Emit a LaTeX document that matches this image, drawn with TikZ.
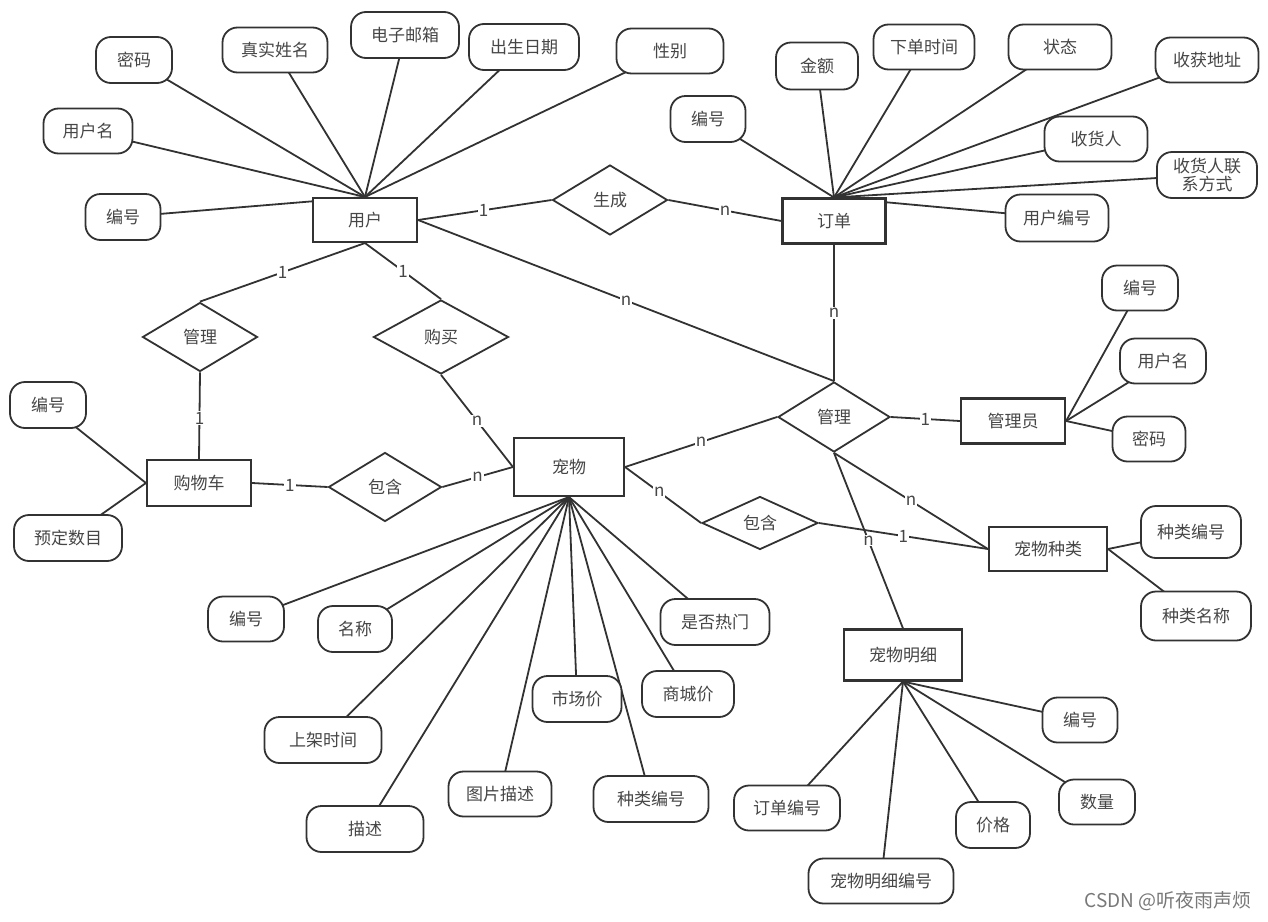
\documentclass[tikz,border=0pt]{standalone}
\usepackage{fontspec}
\setmainfont{Noto Sans CJK SC}
\usetikzlibrary{shapes.geometric,backgrounds}
\definecolor{linec}{RGB}{50,50,50}
\definecolor{textc}{RGB}{70,70,70}
\definecolor{markc}{RGB}{120,120,120}
\tikzset{
  base/.style={draw=linec, fill=white, text=textc, inner sep=0pt, align=center, font=\fontsize{17}{20}\selectfont},
  sz/.style 2 args={minimum width=#1, minimum height=#2},
  attr/.style={base, line width=1.8pt, rounded corners=15pt},
  ent/.style={base, line width=2.1pt, rectangle},
  rel/.style={base, diamond, line width=1.8pt},
  edge/.style={draw=linec, line width=1.8pt},
  lab/.style={fill=white, inner sep=1pt, text=textc, font=\fontsize{17}{20}\selectfont}
}
\begin{document}
\begin{tikzpicture}[x=1pt,y=-1pt]
\useasboundingbox (0,0) rectangle (1268,921);
% entities
\node[ent, sz={104}{44}] (user) at (365,220) {用户};
\node[ent, sz={103}{45}] (order) at (834,221) {订单};
\node[ent, sz={104}{45}] (admin) at (1013,421) {管理员};
\node[ent, sz={118}{44}] (kind) at (1048,549) {宠物种类};
\node[ent, sz={118}{51}] (detail) at (903,655) {宠物明细};
\node[ent, sz={110}{58}] (pet) at (569,467) {宠物};
\node[ent, sz={104}{46}] (cart) at (199,483) {购物车};
% relationships
\node[rel, sz={115}{70}] (gen) at (610,200) {生成};
\node[rel, sz={112}{70}] (mgrR) at (834,417) {管理};
\node[rel, sz={116}{53}] (incR) at (760,523) {包含};
\node[rel, sz={135}{74}] (buy) at (441,337) {购买};
\node[rel, sz={115}{69}] (mgrL) at (200,337) {管理};
\node[rel, sz={113}{69}] (incL) at (385,487) {包含};
% user attributes
\node[attr, sz={76}{46}] (u1) at (134,60) {密码};
\node[attr, sz={105}{45}] (u2) at (275,50) {真实姓名};
\node[attr, sz={108}{46}] (u3) at (405,35) {电子邮箱};
\node[attr, sz={110}{46}] (u4) at (524,47) {出生日期};
\node[attr, sz={107}{45}] (u5) at (670,51) {性别};
\node[attr, sz={89}{45}] (u6) at (88,131) {用户名};
\node[attr, sz={75}{46}] (u7) at (123,217) {编号};
% order attributes
\node[attr, sz={75}{46}] (o1) at (708,119) {编号};
\node[attr, sz={82}{47}] (o2) at (817,66) {金额};
\node[attr, sz={101}{45}] (o3) at (924,47) {下单时间};
\node[attr, sz={103}{45}] (o4) at (1060,47) {状态};
\node[attr, sz={103}{45}] (o5) at (1207,60) {收获地址};
\node[attr, sz={103}{45}] (o6) at (1096,139) {收货人};
\node[attr, sz={100}{46}, font=\fontsize{17}{18}\selectfont] (o7) at (1207,175) {收货人联\\系方式};
\node[attr, sz={103}{47}] (o8) at (1057,218) {用户编号};
% admin attributes
\node[attr, sz={76}{45}] (a1) at (1140,288) {编号};
\node[attr, sz={86}{45}] (a2) at (1163,361) {用户名};
\node[attr, sz={73}{45}] (a3) at (1149,439) {密码};
% kind attributes
\node[attr, sz={100}{52}] (k1) at (1191,532) {种类编号};
\node[attr, sz={110}{49}] (k2) at (1196,616) {种类名称};
% detail attributes
\node[attr, sz={75}{45}] (d1) at (1080,720) {编号};
\node[attr, sz={76}{45}] (d2) at (1097,802) {数量};
\node[attr, sz={74}{46}] (d3) at (993,825) {价格};
\node[attr, sz={145}{45}] (d4) at (881,881) {宠物明细编号};
\node[attr, sz={106}{45}] (d5) at (787,808) {订单编号};
% pet attributes
\node[attr, sz={76}{45}] (p1) at (246,619) {编号};
\node[attr, sz={74}{46}] (p2) at (355,629) {名称};
\node[attr, sz={117}{46}] (p3) at (323,740) {上架时间};
\node[attr, sz={117}{46}] (p4) at (365,829) {描述};
\node[attr, sz={103}{45}] (p5) at (500,794) {图片描述};
\node[attr, sz={89}{46}] (p6) at (577,699) {市场价};
\node[attr, sz={115}{46}] (p7) at (651,799) {种类编号};
\node[attr, sz={92}{46}] (p8) at (688,694) {商城价};
\node[attr, sz={109}{46}] (p9) at (715,622) {是否热门};
% cart attributes
\node[attr, sz={76}{46}] (c1) at (48,405) {编号};
\node[attr, sz={108}{46}] (c2) at (68,538) {预定数目};
% watermark
\node[anchor=east, inner sep=0pt, text=markc, font=\fontsize{19}{22}\selectfont] (wm) at (1252,901) {CSDN @听夜雨声烦};

\begin{scope}[on background layer]
% attribute links
\foreach \a in {u1,u2,u3,u4,u5,u6,u7} \draw[edge] (\a.center) -- (user.north);
\foreach \a in {o1,o2,o3,o4,o5,o6,o7,o8} \draw[edge] (\a.center) -- (order.north);
\foreach \a in {a1,a2,a3} \draw[edge] (\a.center) -- (admin.east);
\foreach \a in {k1,k2} \draw[edge] (\a.center) -- (kind.east);
\foreach \a in {d1,d2,d3,d4,d5} \draw[edge] (\a.center) -- (detail.south);
\foreach \a in {p1,p2,p3,p4,p5,p6,p7,p8,p9} \draw[edge] (\a.center) -- (pet.south);
\foreach \a in {c1,c2} \draw[edge] (\a.center) -- (cart.west);
% relationship links
\draw[edge] (user.east) -- node[lab, pos=.49] {1} (gen.west);
\draw[edge] (gen.east) -- node[lab, pos=.5] {n} (order.west);
\draw[edge] (user.east) -- node[lab, pos=.5] {n} (mgrR.north);
\draw[edge] (order.south) -- node[lab, pos=.5] {n} (mgrR.north);
\draw[edge] (pet.east) -- node[lab, pos=.5] {n} (mgrR.west);
\draw[edge] (mgrR.east) -- node[lab, pos=.5] {1} (admin.west);
\draw[edge] (mgrR.south) -- node[lab, pos=.5] {n} (kind.west);
\draw[edge] (mgrR.south) -- node[lab, pos=.5] {n} (detail.north);
\draw[edge] (pet.east) -- node[lab, pos=.45] {n} (incR.west);
\draw[edge] (incR.east) -- node[lab, pos=.5] {1} (kind.west);
\draw[edge] (user.south) -- node[lab, pos=.5] {1} (mgrL.north);
\draw[edge] (user.south) -- node[lab, pos=.5] {1} (buy.north);
\draw[edge] (mgrL.south) -- node[lab, pos=.53] {1} (cart.north);
\draw[edge] (buy.south) -- node[lab, pos=.5] {n} (pet.west);
\draw[edge] (cart.east) -- node[lab, pos=.5] {1} (incL.west);
\draw[edge] (incL.east) -- node[lab, pos=.5] {n} (pet.west);
\end{scope}
\end{tikzpicture}
\end{document}
